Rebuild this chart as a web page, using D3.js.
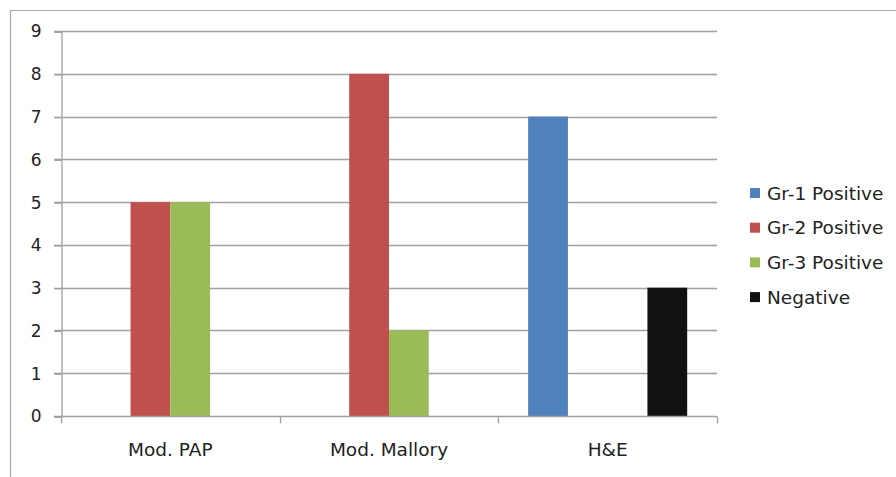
<!DOCTYPE html>
<html>
<head>
<meta charset="utf-8">
<script src="https://cdn.jsdelivr.net/npm/d3@7"></script>
<style>
  html, body { margin: 0; padding: 0; background: #fff; }
  svg { display: block; }
  text { font-family: "DejaVu Sans", Verdana, sans-serif; fill: #222; }
</style>
</head>
<body>
<svg id="chart" width="896" height="477"></svg>
<script>
// Stain methods on the x axis
const categories = ["Mod. PAP", "Mod. Mallory", "H&E"];
// Series names and their colours
const seriesNames = ["Gr-1 Positive", "Gr-2 Positive", "Gr-3 Positive", "Negative"];
const seriesColors = ["#4f81bd", "#c0504d", "#9bbb59", "#111111"];
// Counts per series, one entry per category
const gr1Positive = [0, 0, 7];
const gr2Positive = [5, 8, 0];
const gr3Positive = [5, 2, 0];
const negative    = [0, 0, 3];
// Y axis ticks
const yTicks = [0, 1, 2, 3, 4, 5, 6, 7, 8, 9];

const seriesValues = [gr1Positive, gr2Positive, gr3Positive, negative];

const svg = d3.select("#chart");
const W = 896, H = 477;
const plot = { left: 61, right: 717, top: 31, bottom: 416 };

// Outer chart frame (top and left edges visible)
svg.append("path")
  .attr("d", `M10.5,${H} V10.5 H${W}`)
  .attr("fill", "none")
  .attr("stroke", "#a8a8a8")
  .attr("stroke-width", 1.2);

const y = d3.scaleLinear().domain([0, 9]).range([plot.bottom, plot.top]);
const x0 = d3.scaleBand().domain(categories).range([plot.left, plot.right]).padding(0);
const bw = x0.bandwidth();
// Gap width 150%: four bars plus 1.5 bar widths of gap per category
const barW = bw / (seriesNames.length + 1.5);
const x1 = d3.scaleBand().domain(seriesNames)
  .range([barW * 0.75, bw - barW * 0.75]).padding(0);

// Horizontal gridlines
svg.append("g")
  .selectAll("line")
  .data(yTicks.filter(d => d > 0))
  .join("line")
  .attr("x1", plot.left - 7)
  .attr("x2", plot.right)
  .attr("y1", d => Math.round(y(d)) + 0.5)
  .attr("y2", d => Math.round(y(d)) + 0.5)
  .attr("stroke", "#a0a0a0")
  .attr("stroke-width", 1.3);

// Bars
const rows = [];
categories.forEach((c, i) => {
  seriesNames.forEach((s, j) => {
    rows.push({ cat: c, series: s, value: seriesValues[j][i], color: seriesColors[j] });
  });
});
svg.append("g")
  .selectAll("rect")
  .data(rows.filter(d => d.value > 0))
  .join("rect")
  .attr("x", d => x0(d.cat) + x1(d.series))
  .attr("width", x1.bandwidth())
  .attr("y", d => y(d.value))
  .attr("height", d => y(0) - y(d.value))
  .attr("fill", d => d.color);

// Y axis
const yAxis = d3.axisLeft(y).tickValues(yTicks).tickSize(7).tickPadding(13).tickFormat(d3.format("d"));
const gy = svg.append("g")
  .attr("transform", `translate(${plot.left + 0.5},0.5)`)
  .call(yAxis);
gy.select(".domain").attr("stroke", "#a0a0a0").attr("stroke-width", 1.3);
gy.selectAll(".tick line").attr("stroke", "#a0a0a0").attr("stroke-width", 1.3);
gy.selectAll(".tick text")
  .attr("font-size", 17)
  .attr("font-family", "DejaVu Sans, sans-serif")
  .attr("fill", "#222");

// X axis: baseline with tick marks at category boundaries
const gx = svg.append("g").attr("transform", `translate(0,${Math.round(y(0)) + 0.5})`);
gx.append("line")
  .attr("x1", plot.left - 7).attr("x2", plot.right)
  .attr("stroke", "#a0a0a0").attr("stroke-width", 1.3);
const boundaries = categories.map(c => x0(c)).concat([plot.right]);
gx.selectAll("line.tk")
  .data(boundaries)
  .join("line")
  .attr("class", "tk")
  .attr("x1", d => Math.round(d) + 0.5).attr("x2", d => Math.round(d) + 0.5)
  .attr("y1", 0).attr("y2", 7)
  .attr("stroke", "#a0a0a0").attr("stroke-width", 1.3);
gx.selectAll("text")
  .data(categories)
  .join("text")
  .attr("x", d => x0(d) + bw / 2)
  .attr("y", 39)
  .attr("text-anchor", "middle")
  .attr("font-size", 18.5)
  .text(d => d);

// Legend
const legend = svg.append("g").attr("transform", "translate(750,193)");
const li = legend.selectAll("g")
  .data(seriesNames)
  .join("g")
  .attr("transform", (d, i) => `translate(0,${i * 34.7})`);
li.append("rect")
  .attr("x", 0).attr("y", -5)
  .attr("width", 10).attr("height", 10)
  .attr("fill", (d, i) => seriesColors[i]);
li.append("text")
  .attr("x", 17).attr("y", 0)
  .attr("dy", "0.36em")
  .attr("font-size", 18.5)
  .text(d => d);
</script>
</body>
</html>
